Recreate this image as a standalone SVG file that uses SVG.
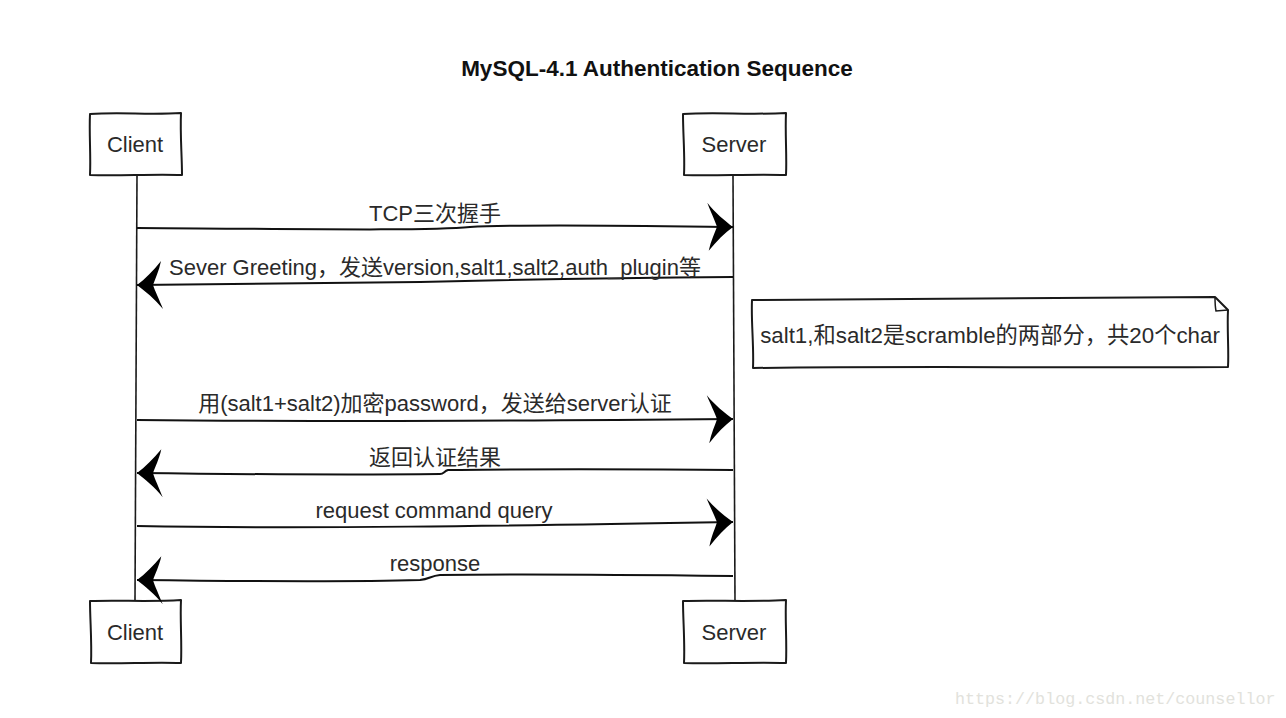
<svg xmlns="http://www.w3.org/2000/svg" width="1286" height="718" viewBox="0 0 1286 718">
<style>
  .t { font-family: "Liberation Sans", "Noto Sans CJK SC", sans-serif; font-size: 22px; fill: #2a2a2a; text-anchor: middle; }
  .nt { font-size: 22.3px; }
  .title { font-family: "Liberation Sans", "Noto Sans CJK SC", sans-serif; font-size: 22.5px; font-weight: bold; fill: #111; text-anchor: middle; }
  .box { fill: #ffffff; stroke: #1a1a1a; stroke-width: 2; stroke-linejoin: round; }
  .life { fill: none; stroke: #1a1a1a; stroke-width: 1.6; }
  .msg { fill: none; stroke: #111; stroke-width: 2; marker-end: url(#ah); }
  .wm { font-family: "Liberation Mono", monospace; font-size: 16.7px; fill: #e2e2dc; }
</style>
<defs>
  <marker id="ah" viewBox="-30 -30 32 60" refX="0" refY="0" markerWidth="32" markerHeight="60" markerUnits="userSpaceOnUse" orient="auto" overflow="visible">
    <path d="M0,0 C-8,-6 -18,-14 -26,-24 C-22,-14 -18,-6 -16,0 C-18,6 -22,14 -24,24 C-16,14 -8,6 0,0 Z" fill="#000"/>
  </marker>
</defs>
<rect x="0" y="0" width="1286" height="718" fill="#ffffff"/>

<text class="title" x="657" y="76">MySQL-4.1 Authentication Sequence</text>

<g id="lifelines">
  <path class="life" d="M137,175 C137,300 135,450 135,600"/>
  <path class="life" d="M733,175 C734,300 734,450 735,600"/>
</g>

<g id="client-top">
  <path class="box" d="M90,114 C120,112 150,115 181,113 C180,135 182,155 182,175 C150,174 120,176 90,175 C91,155 89,135 90,114 Z"/>
  <text class="t" x="135" y="152">Client</text>
</g>
<g id="server-top">
  <path class="box" d="M683,114 C715,112 750,115 786,113 C785,135 787,155 786,175 C750,174 715,176 684,175 C685,155 683,135 683,114 Z"/>
  <text class="t" x="734" y="152">Server</text>
</g>
<g id="client-bottom">
  <path class="box" d="M90,601 C120,600 150,602 181,600 C180,620 182,642 181,663 C150,662 120,664 91,663 C92,642 90,620 90,601 Z"/>
  <text class="t" x="135" y="640">Client</text>
</g>
<g id="server-bottom">
  <path class="box" d="M683,601 C715,600 750,602 786,600 C785,620 787,642 786,663 C750,662 715,664 684,663 C685,642 683,620 683,601 Z"/>
  <text class="t" x="734" y="640">Server</text>
</g>

<g id="note">
  <path class="box" d="M752,300 C900,298 1050,299 1215,297 L1228,310 C1227,330 1229,350 1228,367 C1050,368 900,366 753,368 C754,345 751,322 752,300 Z"/>
  <path d="M1215,297 C1215,302 1215,306 1216,311 L1228,310" fill="none" stroke="#1a1a1a" stroke-width="1.5"/>
  <text class="t nt" x="990" y="343">salt1,和salt2是scramble的两部分，共20个char</text>
</g>

<g id="connectors">
  <path class="msg" d="M137,228 C300,229 430,231 470,227 C520,224 650,226 733,227"/>
  <path class="msg" d="M733,277 C600,278 500,280 420,282 C300,284 200,285 137,285"/>
  <path class="msg" d="M137,420 C300,422 500,421 733,419"/>
  <path class="msg" d="M733,470 C650,469 500,469 448,470 C444,471 444,474 440,474 C350,475 220,474 137,473"/>
  <path class="msg" d="M137,526 C300,529 500,526 733,522"/>
  <path class="msg" d="M733,576 C650,575 500,574 440,575 C430,576 430,579 420,580 C350,582 220,581 137,580"/>
</g>

<g id="labels">
  <text class="t" x="435" y="221">TCP三次握手</text>
  <text class="t" x="435" y="275">Sever Greeting，发送version,salt1,salt2,auth_plugin等</text>
  <text class="t" x="435" y="411">用(salt1+salt2)加密password，发送给server认证</text>
  <text class="t" x="435" y="465">返回认证结果</text>
  <text class="t" x="434" y="518">request command query</text>
  <text class="t" x="435" y="571">response</text>
</g>

<text class="wm" x="955" y="704">https://blog.csdn.net/counsellor</text>
</svg>
